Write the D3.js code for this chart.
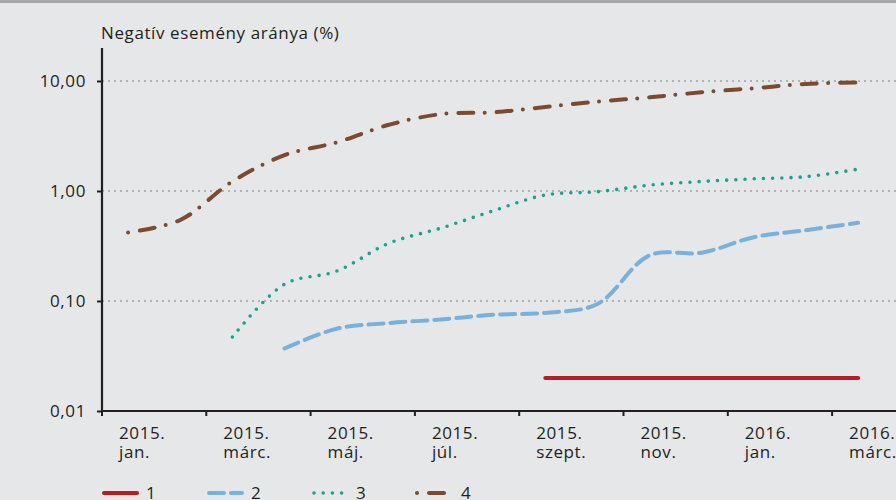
<!DOCTYPE html>
<html>
<head>
<meta charset="utf-8">
<script src="https://cdn.jsdelivr.net/npm/d3@7"></script>
<style>
  body { margin: 0; background: #e6e7e8; }
  svg { display: block; font-family: "Open Sans", sans-serif; letter-spacing: 0.6px; }
</style>
</head>
<body>
<div id="chart"></div>
<script>
// months of the category axis (2015 jan .. 2016 márc)
const months = ["2015-01","2015-02","2015-03","2015-04","2015-05","2015-06","2015-07","2015-08",
                "2015-09","2015-10","2015-11","2015-12","2016-01","2016-02","2016-03"];
const tickMonths = ["2015-01","2015-03","2015-05","2015-07","2015-09","2015-11","2016-01","2016-03"];
const tickLabels = [["2015.","jan."],["2015.","márc."],["2015.","máj."],["2015.","júl."],
                    ["2015.","szept."],["2015.","nov."],["2016.","jan."],["2016.","márc."]];
const yTicks = [0.01, 0.1, 1, 10];

// negative event ratio (%), null where the series has no value yet
const series1 = [null,null,null,null,null,null,null,null,0.02,0.02,0.02,0.02,0.02,0.02,0.02];
const series2 = [null,null,null,0.037,0.056,0.063,0.068,0.075,0.078,0.094,0.26,0.275,0.38,0.44,0.515];
const series3 = [null,null,0.047,0.142,0.187,0.335,0.46,0.66,0.92,0.985,1.13,1.22,1.29,1.35,1.58];
const series4 = [0.42,0.545,1.22,2.12,2.77,4.0,5.0,5.2,5.8,6.5,7.1,7.9,8.6,9.4,9.7];
const seriesNames = ["1","2","3","4"];

const W = 896, H = 500;
const colors = ["#b21f25", "#78b1de", "#17a38f", "#7b4a2f"];
const dashes = ["none", "15,7", "0,9.2", "0,12,15,11.3"];
const widths = [4, 4, 3.6, 4];
const fs = 17;

const svg = d3.select("#chart").append("svg")
  .attr("width", W).attr("height", H)
  .attr("viewBox", `0 0 ${W} ${H}`);

svg.append("rect").attr("width", W).attr("height", H).attr("fill", "#e6e7e8");
svg.append("rect").attr("width", W).attr("height", 3).attr("fill", "#a7a9ac");

const left = 102, bottom = 411;
const x = d3.scaleBand().domain(months).range([left, left + 15 * 52.15]);
const y = d3.scaleLog().domain([0.01, 10]).range([bottom, 81]);
const cx = (m) => x(m) + x.bandwidth() / 2;

// title
svg.append("text")
  .attr("x", 101).attr("y", 39)
  .attr("font-size", fs).attr("fill", "#231f20")
  .text("Negatív esemény aránya (%)");

// grid lines
svg.append("g").selectAll("line")
  .data(yTicks.slice(1)).enter()
  .append("line")
  .attr("x1", left).attr("x2", W)
  .attr("y1", d => y(d)).attr("y2", d => y(d))
  .attr("stroke", "#a3a3a3").attr("stroke-width", 1.3)
  .attr("stroke-dasharray", "2,4");

// y axis
const yAxis = svg.append("g")
  .attr("transform", `translate(${left},0)`)
  .call(d3.axisLeft(y).tickValues(yTicks)
    .tickFormat(d => d.toFixed(2).replace(".", ","))
    .tickSize(5).tickPadding(11));
yAxis.select(".domain").remove();
yAxis.selectAll("line").attr("stroke", "#231f20").attr("stroke-width", 2);
yAxis.selectAll("text").attr("font-size", fs).attr("fill", "#231f20")
  .attr("font-family", "Open Sans, sans-serif");
svg.append("line")
  .attr("x1", left).attr("x2", left).attr("y1", 48).attr("y2", bottom + 1)
  .attr("stroke", "#231f20").attr("stroke-width", 2.2);

// x axis
svg.append("line")
  .attr("x1", left - 1).attr("x2", W).attr("y1", bottom).attr("y2", bottom)
  .attr("stroke", "#231f20").attr("stroke-width", 2.2);
svg.append("g").selectAll("line")
  .data(tickMonths).enter()
  .append("line")
  .attr("x1", d => x(d)).attr("x2", d => x(d))
  .attr("y1", bottom).attr("y2", bottom + 5)
  .attr("stroke", "#231f20").attr("stroke-width", 2);
const xl = svg.append("g").selectAll("text")
  .data(tickMonths).enter()
  .append("text")
  .attr("font-size", fs).attr("fill", "#231f20")
  .attr("x", d => x(d) + 17).attr("y", 439);
xl.append("tspan").attr("x", d => x(d) + 17).text((d, i) => tickLabels[i][0]);
xl.append("tspan").attr("x", d => x(d) + 17).attr("dy", 19).text((d, i) => tickLabels[i][1]);

// series lines
const line = d3.line()
  .defined(d => d.v != null)
  .x(d => cx(d.m))
  .y(d => y(d.v))
  .curve(d3.curveCatmullRom.alpha(0.5));

[series1, series2, series3, series4].forEach((s, i) => {
  svg.append("path")
    .datum(s.map((v, j) => ({ m: months[j], v })))
    .attr("d", line)
    .attr("fill", "none")
    .attr("stroke", colors[i])
    .attr("stroke-width", widths[i])
    .attr("stroke-linecap", "round")
    .attr("stroke-dasharray", dashes[i]);
});

// legend
const lg = svg.append("g").selectAll("g")
  .data(seriesNames).enter()
  .append("g")
  .attr("transform", (d, i) => `translate(${102 + i * 105},493)`);
lg.append("line")
  .attr("x1", (d, i) => i === 3 ? 0 : 2).attr("x2", 35)
  .attr("stroke", (d, i) => colors[i])
  .attr("stroke-width", (d, i) => widths[i])
  .attr("stroke-linecap", "round")
  .attr("stroke-dasharray", (d, i) => dashes[i]);
lg.append("text")
  .attr("x", 44).attr("y", 5.5)
  .attr("font-size", fs).attr("fill", "#231f20")
  .text(d => d);
</script>
</body>
</html>
